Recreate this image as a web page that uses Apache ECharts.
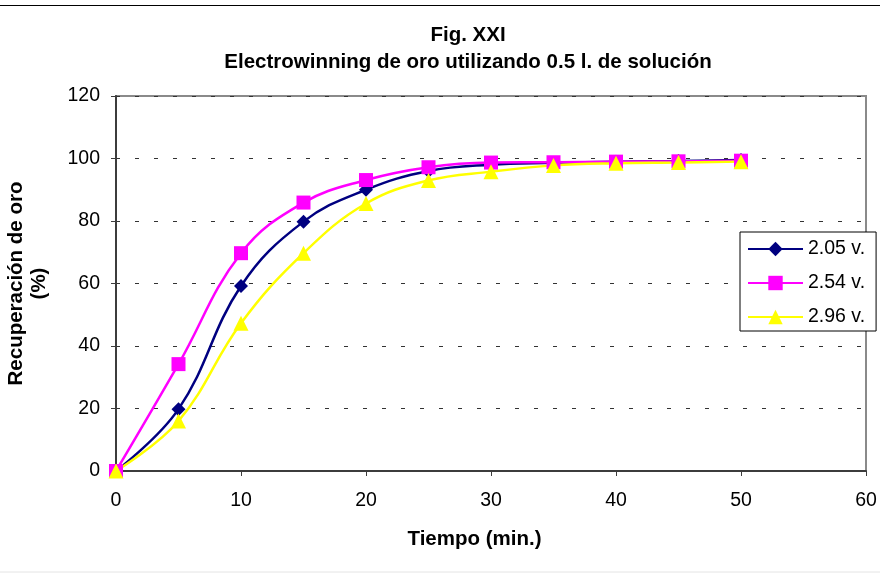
<!DOCTYPE html>
<html>
<head>
<meta charset="utf-8">
<title>Electrowinning de oro</title>
<script src="https://cdn.jsdelivr.net/npm/echarts@6/dist/echarts.min.js"></script>
<style>
  html, body { margin: 0; padding: 0; background: #fff; }
  #chart { width: 880px; height: 573px; }
</style>
</head>
<body>
<div id="chart"></div>
<script>
// Time (min.) at which each sample was taken
const tiempo = [0, 5, 10, 15, 20, 25, 30, 35, 40, 45, 50];

// Gold recovery (%) for each cell voltage
const serie205 = [0, 19.8, 59.2, 79.8, 90.0, 96.0, 98.0, 98.6, 99.0, 99.2, 99.5];
const serie254 = [0, 34.2, 69.7, 85.9, 93.1, 97.2, 98.7, 98.8, 99.0, 99.1, 99.3];
const serie296 = [0, 16.0, 47.3, 69.7, 85.6, 93.0, 95.8, 97.8, 98.5, 98.7, 99.0];

const seriesNames = ['2.05 v.', '2.54 v.', '2.96 v.'];

const FONT = 'Arial, "Liberation Sans", sans-serif';

function pairs(values) {
  return tiempo.map((t, i) => [t, values[i]]);
}

function lineSeries(name, values, color, symbol, size) {
  return {
    name: name,
    type: 'line',
    data: pairs(values),
    smooth: 0.4,
    symbol: symbol,
    symbolSize: size,
    showAllSymbol: true,
    lineStyle: { color: color, width: 2.5 },
    itemStyle: { color: color, borderWidth: 0 },
    emphasis: { disabled: true },
    animation: false
  };
}

const chart = echarts.init(document.getElementById('chart'), null, { renderer: 'canvas' });

chart.setOption({
  backgroundColor: '#ffffff',
  animation: false,
  title: {
    text: 'Fig. XXI\nElectrowinning de oro utilizando 0.5 l. de solución',
    left: 463,
    top: 17,
    textAlign: 'center',
    textStyle: {
      fontFamily: FONT,
      fontWeight: 'bold',
      fontSize: 20.5,
      lineHeight: 27,
      color: '#000'
    }
  },
  graphic: [
    { type: 'line', shape: { x1: 0, y1: 5.5, x2: 880, y2: 5.5 }, style: { stroke: '#000', lineWidth: 1 }, silent: true },
    { type: 'line', shape: { x1: 0, y1: 572, x2: 880, y2: 572 }, style: { stroke: '#e4e4e4', lineWidth: 1 }, silent: true }
  ],
  grid: {
    left: 116,
    right: 14,
    top: 96,
    bottom: 102,
    show: true,
    borderColor: '#8a8a8a',
    borderWidth: 2,
    backgroundColor: '#ffffff',
    outerBoundsMode: 'none'
  },
  legend: {
    orient: 'vertical',
    left: 740,
    top: 232,
    data: seriesNames,
    itemWidth: 55,
    itemHeight: 18,
    itemGap: 14,
    padding: [7, 11, 4, 7],
    backgroundColor: '#ffffff',
    borderColor: '#000000',
    borderWidth: 1,
    selectedMode: false,
    textStyle: {
      fontFamily: FONT,
      fontSize: 19.5,
      lineHeight: 20,
      color: '#000'
    }
  },
  xAxis: {
    type: 'value',
    min: 0,
    max: 60,
    interval: 10,
    name: 'Tiempo (min.)',
    nameLocation: 'middle',
    nameGap: 58,
    nameTextStyle: {
      fontFamily: FONT,
      fontWeight: 'bold',
      fontSize: 20.5,
      color: '#000',
      padding: [0, 33, 0, 0]
    },
    axisLine: { show: true, onZero: false, lineStyle: { color: '#3c3c3c', width: 2 } },
    axisTick: { show: true, inside: false, length: 5, lineStyle: { color: '#3c3c3c', width: 1 } },
    axisLabel: { margin: 20, fontFamily: FONT, fontSize: 19.5, color: '#000' },
    splitLine: { show: false }
  },
  yAxis: {
    type: 'value',
    min: 0,
    max: 120,
    interval: 20,
    name: 'Recuperación de oro\n(%)',
    nameLocation: 'middle',
    nameRotate: 90,
    nameGap: 65,
    nameTextStyle: {
      fontFamily: FONT,
      fontWeight: 'bold',
      fontSize: 20.5,
      lineHeight: 23,
      color: '#000'
    },
    axisLine: { show: true, onZero: false, lineStyle: { color: '#3c3c3c', width: 2 } },
    axisTick: { show: true, inside: false, length: 5, lineStyle: { color: '#3c3c3c', width: 1 } },
    axisLabel: { margin: 16, fontFamily: FONT, fontSize: 19.5, color: '#000' },
    splitLine: {
      show: true,
      lineStyle: { color: '#333333', width: 1, type: [4, 15] }
    }
  },
  series: [
    lineSeries(seriesNames[0], serie205, '#000080', 'diamond', 14),
    lineSeries(seriesNames[1], serie254, '#ff00ff', 'rect', 14),
    lineSeries(seriesNames[2], serie296, '#ffff00', 'triangle', 15)
  ]
});
</script>
</body>
</html>
